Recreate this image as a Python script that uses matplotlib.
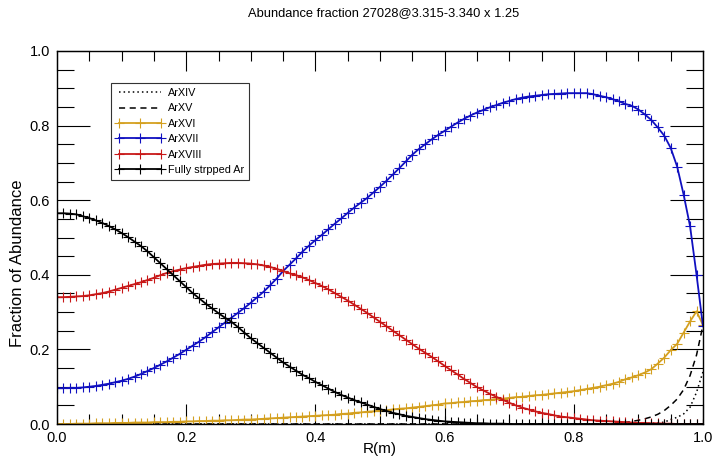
import matplotlib
matplotlib.use("Agg")
import matplotlib.pyplot as plt
import numpy as np

plt.rcParams["font.family"] = ["Liberation Sans", "DejaVu Sans"]

# radius grid, 0.00 ... 1.00 step 0.01
r = np.round(np.arange(101) * 0.01, 2)

ar14 = [0.0] * 91 + [0.001, 0.002, 0.003, 0.005, 0.012, 0.018, 0.027, 0.045, 0.085, 0.140]

ar15 = [0.0] * 87 + [0.002, 0.004, 0.007, 0.010, 0.014, 0.019, 0.026, 0.036,
                     0.050, 0.067, 0.092, 0.130, 0.185, 0.265]

ar16 = [0.000, 0.000, 0.000, 0.001, 0.001, 0.001, 0.002, 0.002, 0.002, 0.003,
        0.003, 0.003, 0.004, 0.004, 0.004, 0.005, 0.005, 0.005, 0.006, 0.006,
        0.007, 0.007, 0.008, 0.008, 0.009, 0.009, 0.010, 0.010, 0.011, 0.012,
        0.012, 0.013, 0.014, 0.015, 0.016, 0.017, 0.018, 0.019, 0.020, 0.021,
        0.022, 0.023, 0.024, 0.025, 0.027, 0.028, 0.030, 0.031, 0.033, 0.034,
        0.036, 0.037, 0.039, 0.041, 0.042, 0.044, 0.046, 0.048, 0.050, 0.052,
        0.055, 0.056, 0.058, 0.059, 0.061, 0.062, 0.064, 0.065, 0.067, 0.068,
        0.070, 0.072, 0.073, 0.075, 0.077, 0.078, 0.080, 0.082, 0.084, 0.086,
        0.088, 0.091, 0.094, 0.097, 0.100, 0.104, 0.108, 0.113, 0.120, 0.125,
        0.131, 0.138, 0.147, 0.162, 0.178, 0.198, 0.215, 0.245, 0.275, 0.302,
        0.265]

ar17 = [0.096, 0.096, 0.097, 0.097, 0.098, 0.100, 0.102, 0.105, 0.108, 0.112,
        0.116, 0.121, 0.127, 0.134, 0.142, 0.150, 0.159, 0.168, 0.178, 0.188,
        0.199, 0.210, 0.221, 0.233, 0.246, 0.259, 0.272, 0.285, 0.298, 0.311,
        0.325, 0.340, 0.355, 0.372, 0.390, 0.410, 0.427, 0.444, 0.462, 0.478,
        0.493, 0.507, 0.522, 0.537, 0.551, 0.566, 0.580, 0.593, 0.606, 0.621,
        0.636, 0.652, 0.669, 0.686, 0.704, 0.722, 0.737, 0.750, 0.763, 0.775,
        0.786, 0.797, 0.808, 0.818, 0.827, 0.835, 0.842, 0.849, 0.855, 0.861,
        0.866, 0.871, 0.875, 0.878, 0.880, 0.882, 0.884, 0.885, 0.886, 0.887,
        0.887, 0.887, 0.887, 0.884, 0.880, 0.876, 0.871, 0.865, 0.858, 0.853,
        0.843, 0.830, 0.815, 0.795, 0.773, 0.740, 0.690, 0.615, 0.530, 0.400,
        0.262]

ar18 = [0.340, 0.340, 0.341, 0.342, 0.343, 0.345, 0.348, 0.351, 0.355, 0.360,
        0.365, 0.370, 0.375, 0.380, 0.386, 0.392, 0.399, 0.405, 0.410, 0.414,
        0.418, 0.421, 0.424, 0.427, 0.429, 0.430, 0.431, 0.432, 0.432, 0.431,
        0.430, 0.428, 0.425, 0.421, 0.416, 0.410, 0.404, 0.399, 0.393, 0.386,
        0.378, 0.370, 0.361, 0.351, 0.341, 0.331, 0.320, 0.309, 0.298, 0.286,
        0.274, 0.262, 0.250, 0.238, 0.226, 0.214, 0.202, 0.191, 0.180, 0.168,
        0.156, 0.144, 0.133, 0.121, 0.110, 0.099, 0.090, 0.081, 0.073, 0.065,
        0.057, 0.050, 0.044, 0.039, 0.034, 0.030, 0.027, 0.023, 0.020, 0.018,
        0.016, 0.014, 0.012, 0.010, 0.009, 0.008, 0.007, 0.006, 0.005, 0.004,
        0.003, 0.003, 0.002, 0.002, 0.001, 0.001, 0.000, 0.000, 0.000, 0.000,
        0.000]

ar_full = [0.565, 0.565, 0.564, 0.562, 0.557, 0.552, 0.546, 0.539, 0.531, 0.522,
           0.512, 0.501, 0.489, 0.477, 0.463, 0.447, 0.431, 0.415, 0.399, 0.383,
           0.367, 0.351, 0.337, 0.323, 0.310, 0.297, 0.285, 0.274, 0.260, 0.245,
           0.230, 0.217, 0.204, 0.191, 0.178, 0.165, 0.154, 0.143, 0.132, 0.123,
           0.113, 0.104, 0.095, 0.086, 0.078, 0.071, 0.064, 0.058, 0.052, 0.046,
           0.040, 0.035, 0.030, 0.026, 0.022, 0.019, 0.016, 0.013, 0.011, 0.009,
           0.007, 0.006, 0.005, 0.004, 0.003, 0.002, 0.002, 0.001, 0.001, 0.001,
           0.000, 0.000, 0.000, 0.000, 0.000, 0.000, 0.000, 0.000, 0.000, 0.000,
           0.000, 0.000, 0.000, 0.000, 0.000, 0.000, 0.000, 0.000, 0.000, 0.000,
           0.000, 0.000, 0.000, 0.000, 0.000, 0.000, 0.000, 0.000, 0.000, 0.000,
           0.000]

fig = plt.figure(figsize=(7.15, 4.59), dpi=100)
ax = fig.add_axes([57 / 715, 35 / 459, 646 / 715, 373 / 459])

ax.plot(r, ar14, color="k", ls=(0, (1, 2)), lw=1.1, label="ArXIV")
ax.plot(r, ar15, color="k", ls=(0, (4, 3)), lw=1.1, label="ArXV")
mk = dict(marker="+", ms=7.5, mew=0.8, lw=1.3)
ax.plot(r, ar16, color="#d4a020", label="ArXVI", **mk)
ax.plot(r, ar17, color="#1010c0", label="ArXVII", **mk)
ax.plot(r, ar18, color="#c81818", label="ArXVIII", **mk)
ax.plot(r, ar_full, color="k", label="Fully strpped Ar", **mk)

ax.set_xlim(0, 1)
ax.set_ylim(0, 1)
ax.set_xticks(np.arange(0, 1.01, 0.2))
ax.set_yticks(np.arange(0, 1.01, 0.2))
ax.set_xticks(np.arange(0, 1.001, 0.05), minor=True)
ax.set_yticks(np.arange(0, 1.001, 0.05), minor=True)
ax.xaxis.set_major_formatter(matplotlib.ticker.FormatStrFormatter("%.1f"))
ax.yaxis.set_major_formatter(matplotlib.ticker.FormatStrFormatter("%.1f"))
ax.tick_params(which="both", direction="in", top=True, right=True,
               width=0.8, labelsize=10.5, pad=5)
ax.tick_params(axis="x", which="major", length=14.4)
ax.tick_params(axis="x", which="minor", length=7.2)
ax.tick_params(axis="y", which="major", length=23.8)
ax.tick_params(axis="y", which="minor", length=12)
for s in ax.spines.values():
    s.set_linewidth(1.0)

ax.set_xlabel("R(m)", fontsize=11, labelpad=-2)
ax.set_ylabel("Fraction of Abundance", fontsize=12)
ax.yaxis.set_label_coords(-0.05, 0.43)
ax.set_title("Abundance fraction 27028@3.315-3.340 x 1.25", fontsize=9.3, pad=25,
             x=0.505)

leg = ax.legend(loc="upper left", bbox_to_anchor=(0.084, 0.914), borderaxespad=0,
                fontsize=7.8, numpoints=3, handlelength=4.4, handletextpad=0.4,
                labelspacing=0.5, borderpad=0.45, fancybox=False, framealpha=1)
leg.get_frame().set_edgecolor("#333333")
leg.get_frame().set_linewidth(0.8)

fig.savefig("out.png", dpi=100)
